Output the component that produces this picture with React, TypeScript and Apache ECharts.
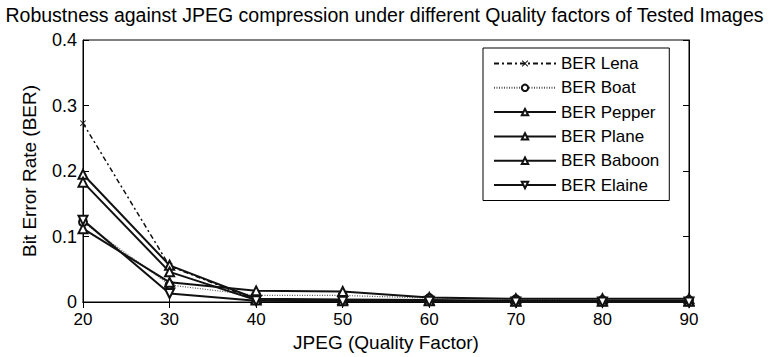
import React, { useEffect, useRef } from "react";
import * as echarts from "echarts";

const categories = ["20", "30", "40", "50", "60", "70", "80", "90"];
const lena = [0.273, 0.055, 0.003, 0.002, 0.001, 0.001, 0.001, 0.001];
const boat = [0.122, 0.026, 0.010, 0.010, 0.006, 0.004, 0.003, 0.003];
const pepper = [0.195, 0.056, 0.005, 0.004, 0.003, 0.002, 0.002, 0.002];
const plane = [0.183, 0.046, 0.003, 0.002, 0.002, 0.001, 0.001, 0.001];
const baboon = [0.112, 0.030, 0.017, 0.016, 0.007, 0.005, 0.005, 0.005];
const elaine = [0.125, 0.013, 0.002, 0.001, 0.001, 0.0, 0.0, 0.0];

const FONT = "Liberation Sans, Arial, sans-serif";
const X_SYMBOL = "path://M0,1L1,0L5,4L9,0L10,1L6,5L10,9L9,10L5,6L1,10L0,9L4,5Z";

export default function App() {
  const ref = useRef<HTMLDivElement>(null);
  useEffect(() => {
    if (!ref.current) return;
    const chart = echarts.init(ref.current, undefined, { renderer: "svg" });
    const solid = (name: string, data: number[], symbol: string, rotate = 0) => ({
      name,
      type: "line",
      data,
      symbol,
      symbolSize: 9,
      symbolRotate: rotate,
      showSymbol: true,
      lineStyle: { color: "#111", width: 2, type: "solid" },
      itemStyle: { color: "#111", borderColor: "#111", borderWidth: 1.5 },
    });
    chart.setOption({
      animation: false,
      backgroundColor: "#fff",
      title: {
        text: "Robustness against JPEG compression under different Quality factors of Tested Images",
        left: "center",
        top: 0,
        textStyle: { fontFamily: FONT, fontSize: 19.5, fontWeight: "normal", color: "#000" },
      },
      grid: { left: 83, right: 80, top: 40, bottom: 55, show: true, borderColor: "#000", borderWidth: 1 },
      legend: {
        orient: "vertical",
        left: 483,
        top: 48,
        padding: [7, 10, 7, 10],
        itemWidth: 62,
        itemHeight: 8,
        itemGap: 7.3,
        borderColor: "#000",
        borderWidth: 1,
        backgroundColor: "#fff",
        textStyle: { fontFamily: FONT, fontSize: 17, color: "#000" },
        data: ["BER Lena", "BER Boat", "BER Pepper", "BER Plane", "BER Baboon", "BER Elaine"],
      },
      xAxis: [
        {
          type: "category",
          data: categories,
          boundaryGap: false,
          name: "JPEG (Quality Factor)",
          nameLocation: "middle",
          nameGap: 31,
          nameTextStyle: { fontFamily: FONT, fontSize: 19, color: "#000" },
          axisLine: { lineStyle: { color: "#000" } },
          axisTick: { inside: true, length: 6, lineStyle: { color: "#000" } },
          axisLabel: { fontFamily: FONT, fontSize: 17, color: "#000", margin: 9 },
          splitLine: { show: false },
        },
        {
          type: "category",
          data: categories,
          boundaryGap: false,
          position: "top",
          axisLine: { lineStyle: { color: "#000" } },
          axisTick: { inside: true, length: 6, lineStyle: { color: "#000" } },
          axisLabel: { show: false },
          splitLine: { show: false },
        },
      ],
      yAxis: [
        {
          type: "value",
          min: 0,
          max: 0.4,
          interval: 0.1,
          name: "Bit Error Rate (BER)",
          nameLocation: "middle",
          nameGap: 44,
          nameTextStyle: { fontFamily: FONT, fontSize: 19, color: "#000" },
          axisLine: { show: true, lineStyle: { color: "#000" } },
          axisTick: { show: true, inside: true, length: 6, lineStyle: { color: "#000" } },
          axisLabel: { fontFamily: FONT, fontSize: 18, color: "#000", margin: 6 },
          splitLine: { show: false },
        },
        {
          type: "value",
          min: 0,
          max: 0.4,
          interval: 0.1,
          position: "right",
          axisLine: { show: true, lineStyle: { color: "#000" } },
          axisTick: { show: true, inside: true, length: 6, lineStyle: { color: "#000" } },
          axisLabel: { show: false },
          splitLine: { show: false },
        },
      ],
      series: [
        {
          name: "BER Lena",
          type: "line",
          data: lena,
          symbol: X_SYMBOL,
          symbolSize: 6,
          lineStyle: { color: "#111", width: 1.5, type: [5, 3, 2, 3] },
          itemStyle: { color: "#111" },
        },
        {
          name: "BER Boat",
          type: "line",
          data: boat,
          symbol: "emptyCircle",
          symbolSize: 8,
          lineStyle: { color: "#555", width: 1.2, type: [1, 1.5] },
          itemStyle: { color: "#111", borderColor: "#111", borderWidth: 1.5 },
        },
        solid("BER Pepper", pepper, "emptyTriangle"),
        solid("BER Plane", plane, "emptyTriangle"),
        solid("BER Baboon", baboon, "emptyTriangle"),
        solid("BER Elaine", elaine, "emptyTriangle", 180),
      ],
    });
    return () => chart.dispose();
  }, []);
  return (
    <div
      ref={ref}
      style={{ position: "fixed", left: 0, top: 0, width: 769, height: 357, background: "#fff" }}
    />
  );
}
